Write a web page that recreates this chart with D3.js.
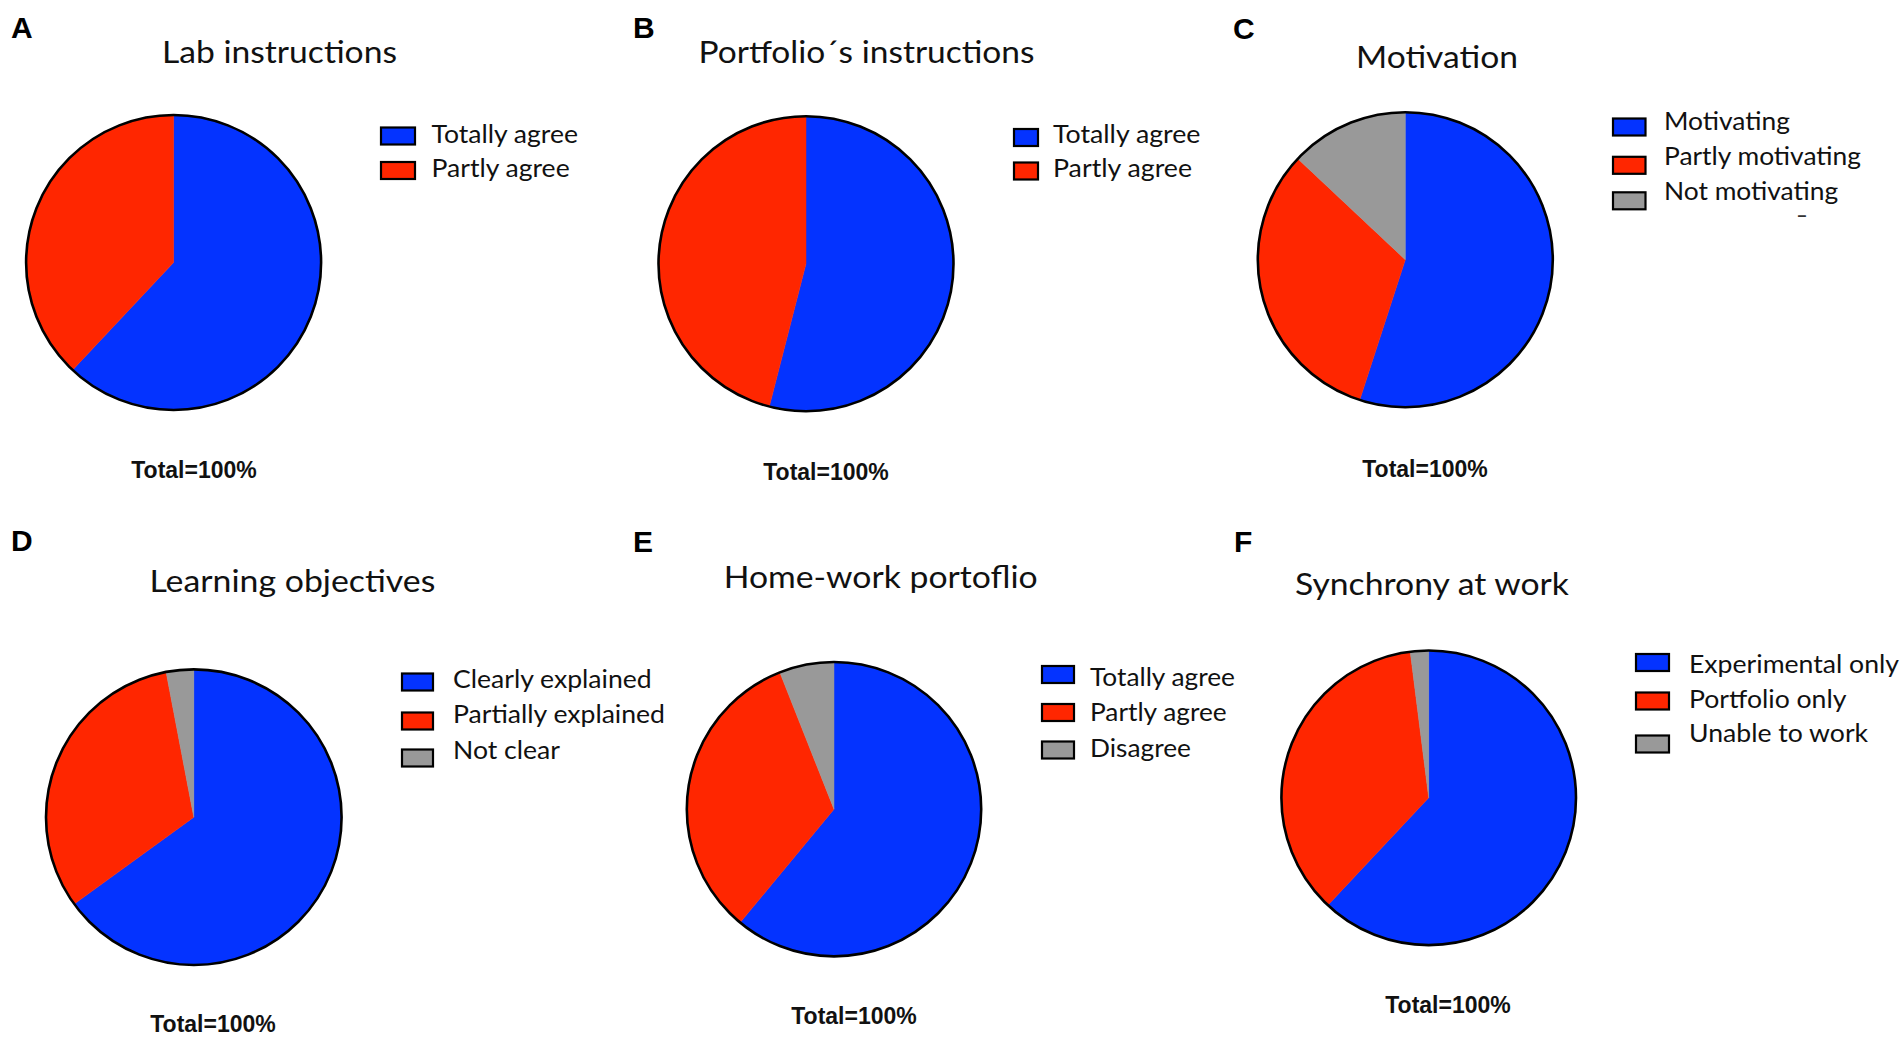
<!DOCTYPE html>
<html>
<head>
<meta charset="utf-8">
<script src="https://cdn.jsdelivr.net/npm/d3@7"></script>
<style>
  html, body { margin: 0; padding: 0; background: #ffffff; }
  svg { display: block; }
</style>
</head>
<body>
<script>
// ---------------- DATA ----------------
const panelLetters = ["A", "B", "C", "D", "E", "F"];
const panelTitles = [
  "Lab instructions",
  "Portfolio´s instructions",
  "Motivation",
  "Learning objectives",
  "Home-work portoflio",
  "Synchrony at work"
];
const categoriesA = ["Totally agree", "Partly agree"];
const valuesA = [62, 38];
const categoriesB = ["Totally agree", "Partly agree"];
const valuesB = [54, 46];
const categoriesC = ["Motivating", "Partly motivating", "Not motivating"];
const valuesC = [55, 32, 13];
const categoriesD = ["Clearly explained", "Partially explained", "Not clear"];
const valuesD = [65, 32, 3];
const categoriesE = ["Totally agree", "Partly agree", "Disagree"];
const valuesE = [61, 33, 6];
const categoriesF = ["Experimental only", "Portfolio only", "Unable to work"];
const valuesF = [62, 36, 2];
const totalLabel = "Total=100%";

const panelCategories = [categoriesA, categoriesB, categoriesC, categoriesD, categoriesE, categoriesF];
const panelValues = [valuesA, valuesB, valuesC, valuesD, valuesE, valuesF];

// ---------------- STYLE / LAYOUT ----------------
const sliceColors = ["#0433FF", "#FF2600", "#999999"];
const layout = [
  { letter: [11, 38],   title: [279.5, 63, 235], pie: [173.6, 262.5, 147.5],
    sw: [381, 34], tx: 431.5, base: [143.3, 176.7], swc: [136, 170.5], lref: 0, lw: 146.5, total: [194, 478] },
  { letter: [633, 38],  title: [866.5, 63, 336], pie: [806, 263.7, 147.5],
    sw: [1014, 24], tx: 1053, base: [143.3, 176.7], swc: [137.5, 171], lref: 0, lw: 147.5, total: [826, 480] },
  { letter: [1233, 39], title: [1437, 68, 162], pie: [1405.3, 259.7, 147.5],
    sw: [1613, 32.5], tx: 1664, base: [130, 165, 200], swc: [127, 165.3, 200.8], lref: 1, lw: 197, total: [1425, 477] },
  { letter: [11, 551],  title: [292.4, 592, 286], pie: [193.8, 817.2, 147.8],
    sw: [402, 31], tx: 453, base: [688.3, 723.3, 759.3], swc: [682, 721, 758], lref: 1, lw: 212, total: [213, 1032] },
  { letter: [633, 552], title: [880.7, 588.3, 314], pie: [834, 809.2, 147.2],
    sw: [1042, 32], tx: 1090, base: [685.7, 721, 756.7], swc: [674.5, 712.5, 750], lref: 0, lw: 145, total: [854, 1024] },
  { letter: [1234, 552], title: [1432, 595, 274], pie: [1428.7, 797.8, 147.3],
    sw: [1636, 33], tx: 1689, base: [673.3, 707.7, 741.7], swc: [662.5, 701, 744], lref: 0, lw: 210, total: [1448, 1013] }
];

const W = 1904, H = 1037;
const svg = d3.select("body").append("svg")
  .attr("width", W).attr("height", H)
  .attr("viewBox", `0 0 ${W} ${H}`);

const labelFont = "'Liberation Sans', Arial, sans-serif";
const textFont = "Lato, 'Open Sans', sans-serif";

const pieGen = d3.pie().sort(null).value(d => d.value).startAngle(0).endAngle(2 * Math.PI);

panelLetters.forEach((letter, i) => {
  const L = layout[i];
  const cats = panelCategories[i];
  const vals = panelValues[i];
  const data = cats.map((c, j) => ({ category: c, value: vals[j] }));
  const color = d3.scaleOrdinal().domain(cats).range(sliceColors);

  const g = svg.append("g").attr("class", "panel panel-" + letter);

  // panel letter
  g.append("text")
    .attr("x", L.letter[0]).attr("y", L.letter[1])
    .attr("font-family", labelFont).attr("font-weight", "bold")
    .attr("font-size", 30).attr("fill", "#000")
    .text(letter);

  // title
  g.append("text")
    .attr("x", L.title[0]).attr("y", L.title[1])
    .attr("text-anchor", "middle")
    .attr("font-family", textFont).attr("font-size", 30).attr("fill", "#111")
    .attr("textLength", L.title[2]).attr("lengthAdjust", "spacingAndGlyphs")
    .text(panelTitles[i]);

  // pie
  const [cx, cy, r] = L.pie;
  const arc = d3.arc().innerRadius(0).outerRadius(r);
  const pg = g.append("g").attr("transform", `translate(${cx},${cy})`);
  pg.selectAll("path.slice")
    .data(pieGen(data))
    .join("path")
    .attr("class", "slice")
    .attr("d", arc)
    .attr("fill", d => color(d.data.category))
    .attr("stroke", d => color(d.data.category))
    .attr("stroke-width", 0.5);
  pg.append("circle")
    .attr("r", r)
    .attr("fill", "none")
    .attr("stroke", "#000")
    .attr("stroke-width", 2.6);

  // legend
  const lg = g.append("g").attr("class", "legend");
  const swH = 17;
  lg.selectAll("rect")
    .data(cats)
    .join("rect")
    .attr("x", L.sw[0])
    .attr("y", (d, j) => L.swc[j] - swH / 2)
    .attr("width", L.sw[1])
    .attr("height", swH)
    .attr("fill", d => color(d))
    .attr("stroke", "#000")
    .attr("stroke-width", 2.2);
  const texts = lg.selectAll("text.leg")
    .data(cats)
    .join("text")
    .attr("class", "leg")
    .attr("x", L.tx)
    .attr("y", (d, j) => L.base[j])
    .attr("font-family", textFont).attr("font-size", 25).attr("fill", "#111")
    .text(d => d);
  const natural = texts.nodes().map(n => n.getComputedTextLength());
  const ratio = L.lw / natural[L.lref];
  texts.each(function(d, j) {
    d3.select(this).attr("textLength", natural[j] * ratio).attr("lengthAdjust", "spacingAndGlyphs");
  });

  // total label
  g.append("text")
    .attr("x", L.total[0]).attr("y", L.total[1])
    .attr("text-anchor", "middle")
    .attr("font-family", labelFont).attr("font-weight", "bold")
    .attr("font-size", 23).attr("fill", "#111")
    .text(totalLabel);
});

// small stray dash under legend C in the original
svg.append("text")
  .attr("x", 1802).attr("y", 221)
  .attr("text-anchor", "middle")
  .attr("font-family", labelFont).attr("font-weight", "bold").attr("font-size", 16).attr("fill", "#333")
  .text("–");
</script>
</body>
</html>
